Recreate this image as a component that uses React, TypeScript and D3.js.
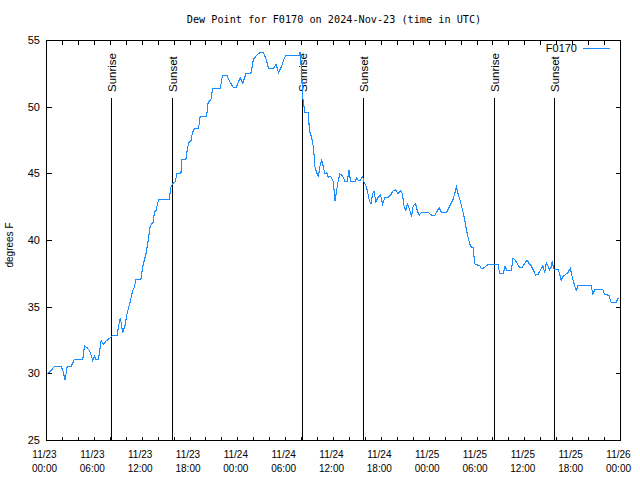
import React from 'react';
import * as d3 from 'd3';

const START = Date.UTC(2024, 10, 23, 0, 0);
const END = Date.UTC(2024, 10, 26, 0, 0);

const TITLE = 'Dew Point for F0170 on 2024-Nov-23 (time in UTC)';
const Y_LABEL = 'degrees F';
const SERIES_NAME = 'F0170';

// hours since 2024-11-23 00:00 UTC
const hours = [
  0.08, 0.58, 1.0, 1.84, 2.05, 2.34, 2.59, 3.09, 3.51, 4.55, 4.76, 5.09, 5.38, 5.59, 5.8, 6.01, 6.22, 6.51,
  6.85, 7.18, 7.47, 7.76, 8.1, 8.31, 8.85, 9.02, 9.26, 9.56, 9.85, 10.1, 10.43, 10.81, 11.02, 11.23, 11.85,
  12.06, 12.27, 12.48, 12.69, 12.9, 13.02, 13.4, 13.52, 13.73, 14.07, 15.4, 15.61, 15.82, 16.15, 16.36, 16.86,
  16.99, 17.49, 17.7, 17.91, 18.12, 18.32, 18.57, 19.07, 19.28, 20.08, 20.29, 20.62, 20.83, 21.79, 22.08,
  22.62, 22.96, 23.46, 23.79, 24.29, 24.62, 25.0, 25.63, 25.96, 26.38, 26.8, 27.21, 27.55, 27.84, 28.47,
  28.8, 29.09, 29.51, 29.72, 30.0, 31.72, 31.8, 31.89, 32.01, 32.14, 32.31, 32.43, 32.85, 32.97, 33.26,
  33.48, 33.68, 33.89, 34.1, 34.31, 34.52, 34.73, 34.93, 35.14, 35.35, 35.64, 35.98, 36.19, 36.39, 36.6,
  36.81, 37.02, 37.23, 37.44, 37.73, 37.94, 38.15, 38.69, 38.9, 39.11, 39.32, 39.65, 39.82, 40.15, 40.49,
  40.7, 40.9, 41.07, 41.32, 41.61, 41.9, 42.16, 42.45, 42.86, 43.16, 43.49, 43.78, 44.12, 44.41, 44.66,
  44.83, 45.08, 45.25, 45.5, 45.79, 46.0, 46.29, 46.5, 46.75, 47.04, 47.87, 48.29, 48.71, 49.25, 49.55,
  50.17, 50.59, 51.01, 51.42, 51.63, 51.93, 52.26, 52.47, 52.68, 52.88, 53.09, 53.3, 53.51, 53.72, 54.35,
  54.55, 54.76, 55.39, 56.64, 56.85, 57.27, 57.52, 57.77, 58.31, 58.52, 58.94, 59.35, 59.69, 60.27, 60.61,
  60.81, 61.36, 61.65, 62.07, 62.27, 62.48, 62.69, 62.9, 63.11, 63.32, 63.44, 63.61, 63.74, 64.15, 64.36,
  64.57, 64.78, 65.41, 65.7, 65.95, 66.24, 66.45, 66.66, 68.33, 68.54, 68.75, 69.79, 70.0, 70.54, 70.83,
  71.46, 71.67, 71.88,
];

const dewPoint = [
  30.0, 30.25, 30.55, 30.55, 30.25, 29.55, 30.55, 30.55, 31.1, 31.1, 32.1, 31.95, 31.75, 31.4, 31.0, 31.3, 31.05, 31.05,
  32.5, 32.2, 32.45, 32.6, 32.75, 32.9, 32.9, 33.5, 34.2, 33.1, 33.6, 34.5, 35.25, 36.25, 36.5, 37.1, 37.1,
  38.0, 38.5, 39.0, 39.75, 40.6, 41.1, 41.4, 42.1, 42.25, 43.1, 43.1, 44.0, 44.25, 44.4, 45.05, 45.05,
  46.1, 46.1, 47.0, 47.4, 47.5, 48.1, 48.4, 48.4, 49.3, 49.3, 50.4, 50.55, 51.4, 51.4, 52.4,
  52.4, 51.95, 51.45, 51.45, 52.2, 51.8, 52.5, 52.5, 53.6, 53.9, 54.1, 54.1, 53.6, 52.9, 52.9,
  53.2, 52.6, 53.1, 53.5, 53.9, 53.9, 54.1, 53.5, 52.5, 50.75, 50.0, 49.6, 49.6, 48.25, 47.75,
  47.0, 45.5, 45.1, 44.75, 45.6, 46.0, 45.5, 45.0, 45.1, 44.75, 44.8, 44.4, 43.0, 43.75, 44.5,
  45.0, 44.9, 44.75, 44.4, 44.4, 45.3, 44.4, 44.4, 44.7, 44.5, 44.5, 44.8, 44.4, 44.0, 43.0,
  42.75, 43.5, 43.7, 42.9, 43.25, 43.4, 42.75, 43.25, 43.25, 43.4, 43.75, 43.8, 43.5, 43.75, 43.5,
  42.6, 42.25, 42.75, 42.4, 41.8, 42.6, 42.75, 42.25, 41.9, 42.1, 42.1, 41.9, 41.9, 42.45, 42.1,
  42.1, 42.6, 43.1, 44.0, 43.5, 42.9, 42.1, 41.5, 40.75, 40.25, 39.75, 39.5, 39.5, 38.25, 38.1,
  37.9, 37.9, 38.2, 38.2, 37.5, 37.5, 38.05, 37.75, 37.75, 38.7, 38.4, 37.95, 38.0, 38.55, 38.2,
  38.1, 37.4, 37.45, 37.9, 38.1, 37.6, 38.3, 38.1, 37.8, 38.0, 38.45, 37.9, 37.8, 37.85, 37.5,
  37.0, 37.3, 37.6, 37.9, 37.25, 36.6, 36.25, 36.6, 36.6, 35.95, 36.3, 36.3, 35.95, 35.9, 35.35,
  35.35, 35.625, 35.7,
];

const sunEventHours = [8.1, 15.8, 32.12, 39.75, 56.14, 63.78];
const sunEventLabels = ['Sunrise', 'Sunset', 'Sunrise', 'Sunset', 'Sunrise', 'Sunset'];

const yTicks = [25, 30, 35, 40, 45, 50, 55];

const LINE_COLOR = '#1a8cff';
const SANS = '"Liberation Sans", Arial, sans-serif';
const MONO = '"DejaVu Sans Mono", monospace';

export default function App() {
  const W = 640;
  const H = 480;
  const left = 46.5;
  const right = 620.5;
  const top = 40.5;
  const bottom = 440.5;

  const toDate = (h: number) => new Date(START + h * 3600000);
  const x = d3.scaleUtc().domain([new Date(START), new Date(END)]).range([left, right]);
  const y = d3.scaleLinear().domain([25, 55]).range([bottom, top]);

  const line = d3
    .line<number>()
    .x((_, i) => x(toDate(hours[i])))
    .y((d) => y(d));

  const majorTicks = d3.utcHour.every(6)!.range(new Date(START), new Date(END + 1));
  const minorTicks = d3.utcHour.every(2)!.range(new Date(START), new Date(END + 1));
  const fmtDate = d3.utcFormat('%m/%d');
  const fmtTime = d3.utcFormat('%H:%M');

  const snap = (v: number) => Math.round(v - 0.5) + 0.5;

  return (
    <svg
      width={W}
      height={H}
      style={{ position: 'absolute', left: 0, top: 0, display: 'block', background: '#fff' }}
    >
      <rect x={0} y={0} width={W} height={H} fill="#fff" />
      <text x={334} y={23} textAnchor="middle" fontFamily={MONO} fontSize={10.2} fill="#000">
        {TITLE}
      </text>

      {/* sun event lines */}
      {sunEventHours.map((h, i) => {
        const xx = snap(x(toDate(h)));
        return (
          <g key={'s' + i}>
            <line x1={xx} x2={xx} y1={bottom} y2={98} stroke="#000" strokeWidth={1} shapeRendering="crispEdges" />
            <text
              transform={`translate(${xx + 4.5},92) rotate(-90)`}
              textAnchor="start"
              fontFamily={SANS}
              fontSize={11.5}
              fill="#000"
            >
              {sunEventLabels[i]}
            </text>
          </g>
        );
      })}

      {/* ticks */}
      {minorTicks.map((d, i) => {
        const xx = snap(x(d));
        return (
          <g key={'mt' + i} shapeRendering="crispEdges">
            <line x1={xx} x2={xx} y1={bottom} y2={bottom - 4} stroke="#000" />
            <line x1={xx} x2={xx} y1={top} y2={top + 4} stroke="#000" />
          </g>
        );
      })}
      {yTicks.map((v) => {
        const yy = snap(y(v));
        return (
          <g key={'yt' + v}>
            <line x1={left} x2={left + 5} y1={yy} y2={yy} stroke="#000" shapeRendering="crispEdges" />
            <line x1={right} x2={right - 5} y1={yy} y2={yy} stroke="#000" shapeRendering="crispEdges" />
            <text x={40} y={yy} dy="0.35em" textAnchor="end" fontFamily={SANS} fontSize={11} fill="#000">
              {v}
            </text>
          </g>
        );
      })}
      {majorTicks.map((d, i) => {
        const xx = x(d) - 2;
        return (
          <text key={'xl' + i} x={xx} textAnchor="middle" fontFamily={SANS} fontSize={10} fill="#000">
            <tspan x={xx} y={457.5}>
              {fmtDate(d)}
            </tspan>
            <tspan x={xx} y={471.5}>
              {fmtTime(d)}
            </tspan>
          </text>
        );
      })}

      <text
        transform={`translate(13,245) rotate(-90)`}
        textAnchor="middle"
        fontFamily={SANS}
        fontSize={10}
        fill="#000"
      >
        {Y_LABEL}
      </text>

      {/* data line */}
      <path d={line(dewPoint) || ''} fill="none" stroke={LINE_COLOR} strokeWidth={1.1} shapeRendering="crispEdges" />

      {/* border */}
      <rect
        x={left}
        y={top}
        width={right - left}
        height={bottom - top}
        fill="none"
        stroke="#000"
        strokeWidth={1}
        shapeRendering="crispEdges"
      />

      {/* legend */}
      <text x={577} y={52} textAnchor="end" fontFamily={SANS} fontSize={11} fill="#000">
        {SERIES_NAME}
      </text>
      <line x1={583} x2={610} y1={48.5} y2={48.5} stroke={LINE_COLOR} strokeWidth={1} shapeRendering="crispEdges" />
    </svg>
  );
}
